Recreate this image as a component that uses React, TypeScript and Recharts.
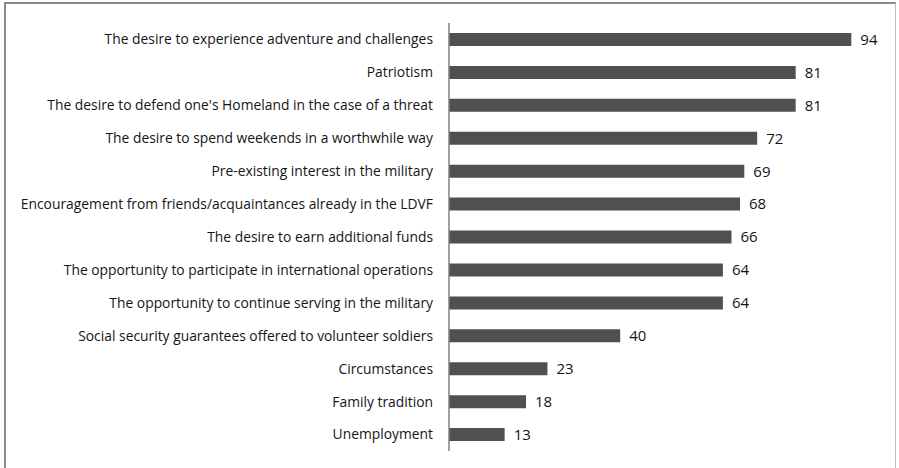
import React from 'react';
import { BarChart, Bar, XAxis, YAxis, LabelList } from 'recharts';

const categories = [
  'The desire to experience adventure and challenges',
  'Patriotism',
  "The desire to defend one's Homeland in the case of a threat",
  'The desire to spend weekends in a worthwhile way',
  'Pre-existing interest in the military',
  'Encouragement from friends/acquaintances already in the LDVF',
  'The desire to earn additional funds',
  'The opportunity to participate in international operations',
  'The opportunity to continue serving in the military',
  'Social security guarantees offered to volunteer soldiers',
  'Circumstances',
  'Family tradition',
  'Unemployment',
];
const values = [94, 81, 81, 72, 69, 68, 66, 64, 64, 40, 23, 18, 13];

const data = categories.map((name, i) => ({ name, value: values[i] }));

const FONT = '"Open Sans", "Liberation Sans", sans-serif';

export default function App() {
  return (
    <div style={{ position: 'absolute', left: 0, top: 0, width: 899, height: 468, background: '#fff' }}>
      <div
        style={{
          position: 'absolute',
          left: 4,
          top: 2,
          width: 892,
          height: 480,
          borderLeft: '2px solid #8a8a8a',
          borderTop: '2px solid #8a8a8a',
          borderRight: '1px solid #bbbbbb',
          boxSizing: 'border-box',
        }}
      />
      <div style={{ position: 'absolute', left: 0, top: 0 }}>
        <BarChart
          width={899}
          height={468}
          data={data}
          layout="vertical"
          margin={{ top: 23, right: 22, bottom: 17, left: 0 }}
        >
          <XAxis type="number" domain={[0, 100]} hide />
          <YAxis
            type="category"
            dataKey="name"
            width={449}
            tickLine={false}
            tickSize={0}
            tickMargin={16}
            axisLine={{ stroke: '#808080', strokeWidth: 1.5 }}
            interval={0}
            tick={{ fill: '#151515', fontSize: 13.85, fontFamily: FONT }}
          />
          <Bar dataKey="value" fill="#505050" barSize={13} isAnimationActive={false}>
            <LabelList
              dataKey="value"
              position="right"
              offset={9}
              style={{ fill: '#151515', fontSize: 15, fontFamily: FONT }}
            />
          </Bar>
        </BarChart>
      </div>
    </div>
  );
}
